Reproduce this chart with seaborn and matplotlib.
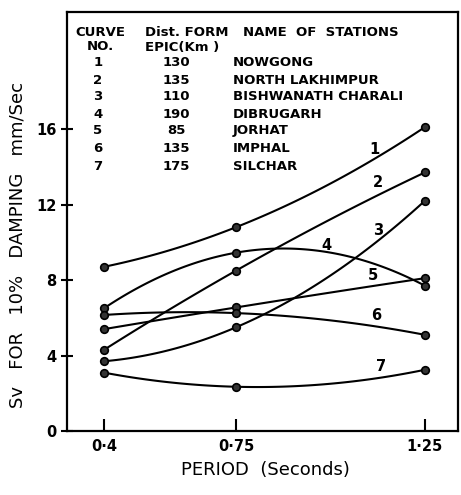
import numpy as np
import pandas as pd
import matplotlib
matplotlib.use("Agg")
import matplotlib.pyplot as plt
import seaborn as sns

# Data
period = [0.4, 0.75, 1.25]
curve_no = ["1", "2", "3", "4", "5", "6", "7"]
dist_km = ["130", "135", "110", "190", "85", "135", "175"]
stations = ["NOWGONG", "NORTH LAKHIMPUR", "BISHWANATH CHARALI", "DIBRUGARH",
            "JORHAT", "IMPHAL", "SILCHAR"]
sv_1 = [8.7, 10.8, 16.1]
sv_2 = [4.3, 8.5, 13.7]
sv_3 = [3.7, 5.5, 12.2]
sv_4 = [6.5, 9.45, 7.7]
sv_5 = [5.4, 6.55, 8.1]
sv_6 = [6.15, 6.25, 5.1]
sv_7 = [3.1, 2.35, 3.25]
label_x = [1.117, 1.125, 1.125, 0.99, 1.112, 1.122, 1.135]
label_y = [14.9, 13.15, 10.65, 9.85, 8.25, 6.1, 3.4]
x_ticks = [0.4, 0.75, 1.25]
x_ticklabels = ["0·4", "0·75", "1·25"]
y_ticks = [0, 4, 8, 12, 16]

sns.set_style("ticks")
plt.rcParams["font.family"] = ["DejaVu Sans"]
plt.rcParams["text.color"] = "black"
plt.rcParams["xtick.color"] = "black"
plt.rcParams["ytick.color"] = "black"
plt.rcParams["axes.labelcolor"] = "black"

fig = plt.figure(figsize=(4.61, 4.95), dpi=100)
ax = fig.add_axes([0.145, 0.129, 0.848, 0.847])

series = [sv_1, sv_2, sv_3, sv_4, sv_5, sv_6, sv_7]
for i, sv in enumerate(series):
    df = pd.DataFrame({"period": period, "sv": sv})
    sns.regplot(data=df, x="period", y="sv", order=2, ci=None, truncate=True, ax=ax,
                color="black", marker="o",
                scatter_kws={"s": 30, "facecolor": "#333333", "edgecolor": "black",
                             "linewidths": 1.2, "alpha": 1, "zorder": 3},
                line_kws={"lw": 1.5, "color": "black"})
    ax.text(label_x[i], label_y[i], curve_no[i], fontsize=10.5, fontweight="bold",
            ha="center", va="center", color="black")

ax.set_xlim(0.302, 1.337)
ax.set_ylim(0, 22.2)
ax.set_xticks(x_ticks)
ax.set_xticklabels(x_ticklabels, fontsize=10.5, fontweight="bold")
ax.set_yticks(y_ticks)
ax.set_yticklabels([str(v) for v in y_ticks], fontsize=10.5, fontweight="bold")
ax.tick_params(axis="x", direction="in", length=8.5, width=1.5, pad=6)
ax.tick_params(axis="y", direction="inout", length=8.5, width=1.5, pad=3)
for s in ax.spines.values():
    s.set_linewidth(1.6)
    s.set_color("black")
ax.set_xlabel("")
ax.set_ylabel("")

fig.text(265 / 461, 1 - 470 / 495, "PERIOD  (Seconds)", fontsize=13,
         ha="center", va="center")
fig.text(18 / 461, 1 - 245 / 495, "Sv   FOR   10%   DAMPING   mm/Sec", fontsize=13,
         rotation=90, ha="center", va="center")

# station table inside the plot
tf = dict(fontsize=9.5, fontweight="bold", va="center", transform=fig.transFigure)
fig.text(100 / 461, 1 - 32 / 495, "CURVE", ha="center", **tf)
fig.text(100 / 461, 1 - 47 / 495, "NO.", ha="center", **tf)
fig.text(145 / 461, 1 - 32 / 495, "Dist. FORM", ha="left", **tf)
fig.text(145 / 461, 1 - 47 / 495, "EPIC(Km )", ha="left", **tf)
fig.text(243 / 461, 1 - 32 / 495, "NAME  OF  STATIONS", ha="left", **tf)
row_y = [63, 81, 97, 114, 131, 149, 167]
for i in range(len(curve_no)):
    fig.text(98 / 461, 1 - row_y[i] / 495, curve_no[i], ha="center", **tf)
    fig.text(176 / 461, 1 - row_y[i] / 495, dist_km[i], ha="center", **tf)
    fig.text(233 / 461, 1 - row_y[i] / 495, stations[i], ha="left", **tf)

fig.savefig("out.png", dpi=100)
